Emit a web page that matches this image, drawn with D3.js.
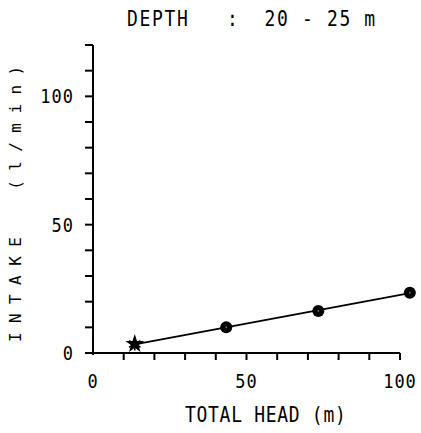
<!DOCTYPE html>
<html>
<head>
<meta charset="utf-8">
<script src="https://cdn.jsdelivr.net/npm/d3@7"></script>
<style>
	html,body{margin:0;padding:0;background:#fff;}
	svg{display:block;}
	text{font-family:'DejaVu Sans Mono','Liberation Mono',monospace;fill:#000;}
</style>
</head>
<body>
<div id="chart"></div>
<script>
// data
var headM=[13.6,43.4,73.4,103.2];	//total head (m)
var intake=[3.5,10.0,16.4,23.5];	//intake (l/min)
var marks=['star','circle','circle','circle'];
var xTicks=[0,50,100];
var yTicks=[0,50,100];
var titleText='DEPTH   :  20 - 25 m';
var xTitle='TOTAL HEAD (m)';
var yTitle='INTAKE  (l/min)';

var W=421,H=433;
var svg=d3.select('#chart').append('svg')
	.attr('width',W).attr('height',H);

var x=d3.scaleLinear().domain([0,100]).range([93,400]);
var y=d3.scaleLinear().domain([0,120]).range([353,45]);

// axes lines
var gAxis=svg.append('g').attr('stroke','#000').attr('stroke-width',2).attr('fill','none');
gAxis.append('line').attr('x1',x(0)).attr('x2',x(0)).attr('y1',y(0)+2).attr('y2',y(120));
gAxis.append('line').attr('x1',x(0)).attr('x2',x(100)).attr('y1',y(0)).attr('y2',y(0));

// minor ticks every 10
d3.range(0,121,10).forEach(function(v){
	gAxis.append('line').attr('x1',x(0)-8).attr('x2',x(0)).attr('y1',y(v)).attr('y2',y(v));
});
d3.range(10,101,10).forEach(function(v){
	gAxis.append('line').attr('x1',x(v)).attr('x2',x(v)).attr('y1',y(0)).attr('y2',y(0)+7);
});

// tick labels (tall plotter glyphs -> stretch a little)
svg.append('g').selectAll('text').data(xTicks).enter().append('text')
	.attr('transform',function(d){return 'translate('+x(d)+',388) scale(1,1.15)'})
	.attr('text-anchor','middle')
	.attr('font-size',17)
	.attr('letter-spacing',1)
	.text(function(d){return d});
svg.append('g').selectAll('text').data(yTicks).enter().append('text')
	.attr('transform',function(d){return 'translate(74,'+(y(d)+7)+') scale(1,1.15)'})
	.attr('text-anchor','end')
	.attr('font-size',17)
	.attr('letter-spacing',1)
	.text(function(d){return d});

// titles
svg.append('text').attr('transform','translate(127,26) scale(1,1.2)')
	.attr('font-size',18).attr('letter-spacing',1.66)
	.style('white-space','pre')
	.text(titleText);
svg.append('text').attr('transform','translate(185,422) scale(1,1.2)')
	.attr('font-size',18).attr('letter-spacing',0.7)
	.style('white-space','pre')
	.text(xTitle);
svg.append('text').attr('transform','translate(21,342) rotate(-90)')
	.attr('font-size',16).attr('letter-spacing',9.4)
	.style('white-space','pre')
	.text(yTitle);

// least squares line through the points
var mx=d3.mean(headM),my=d3.mean(intake),sxy=0,sxx=0;
headM.forEach(function(v,i){
	sxy+=(v-mx)*(intake[i]-my);
	sxx+=(v-mx)*(v-mx);
});
var slope=sxy/sxx,icpt=my-slope*mx;
var xs=d3.extent(headM);
svg.append('path')
	.attr('d',d3.line().x(function(d){return x(d)}).y(function(d){return y(icpt+slope*d)})(xs))
	.attr('stroke','#000').attr('stroke-width',1.8).attr('fill','none');

// markers
var gPts=svg.append('g');
headM.forEach(function(v,i){
	var g=gPts.append('g').attr('transform','translate('+x(v)+','+y(intake[i])+')');
	if(marks[i]=='star'){
		g.append('path').attr('d',d3.symbol().type(d3.symbolStar).size(110)())
			.attr('fill','#000');
		g.append('path').attr('d',d3.symbol().type(d3.symbolAsterisk).size(120)())
			.attr('stroke','#000').attr('stroke-width',1.6).attr('fill','none');
	}else{
		g.append('circle').attr('r',6).attr('fill','#000');
		g.append('circle').attr('r',1).attr('fill','#666');
	}
});
</script>
</body>
</html>
